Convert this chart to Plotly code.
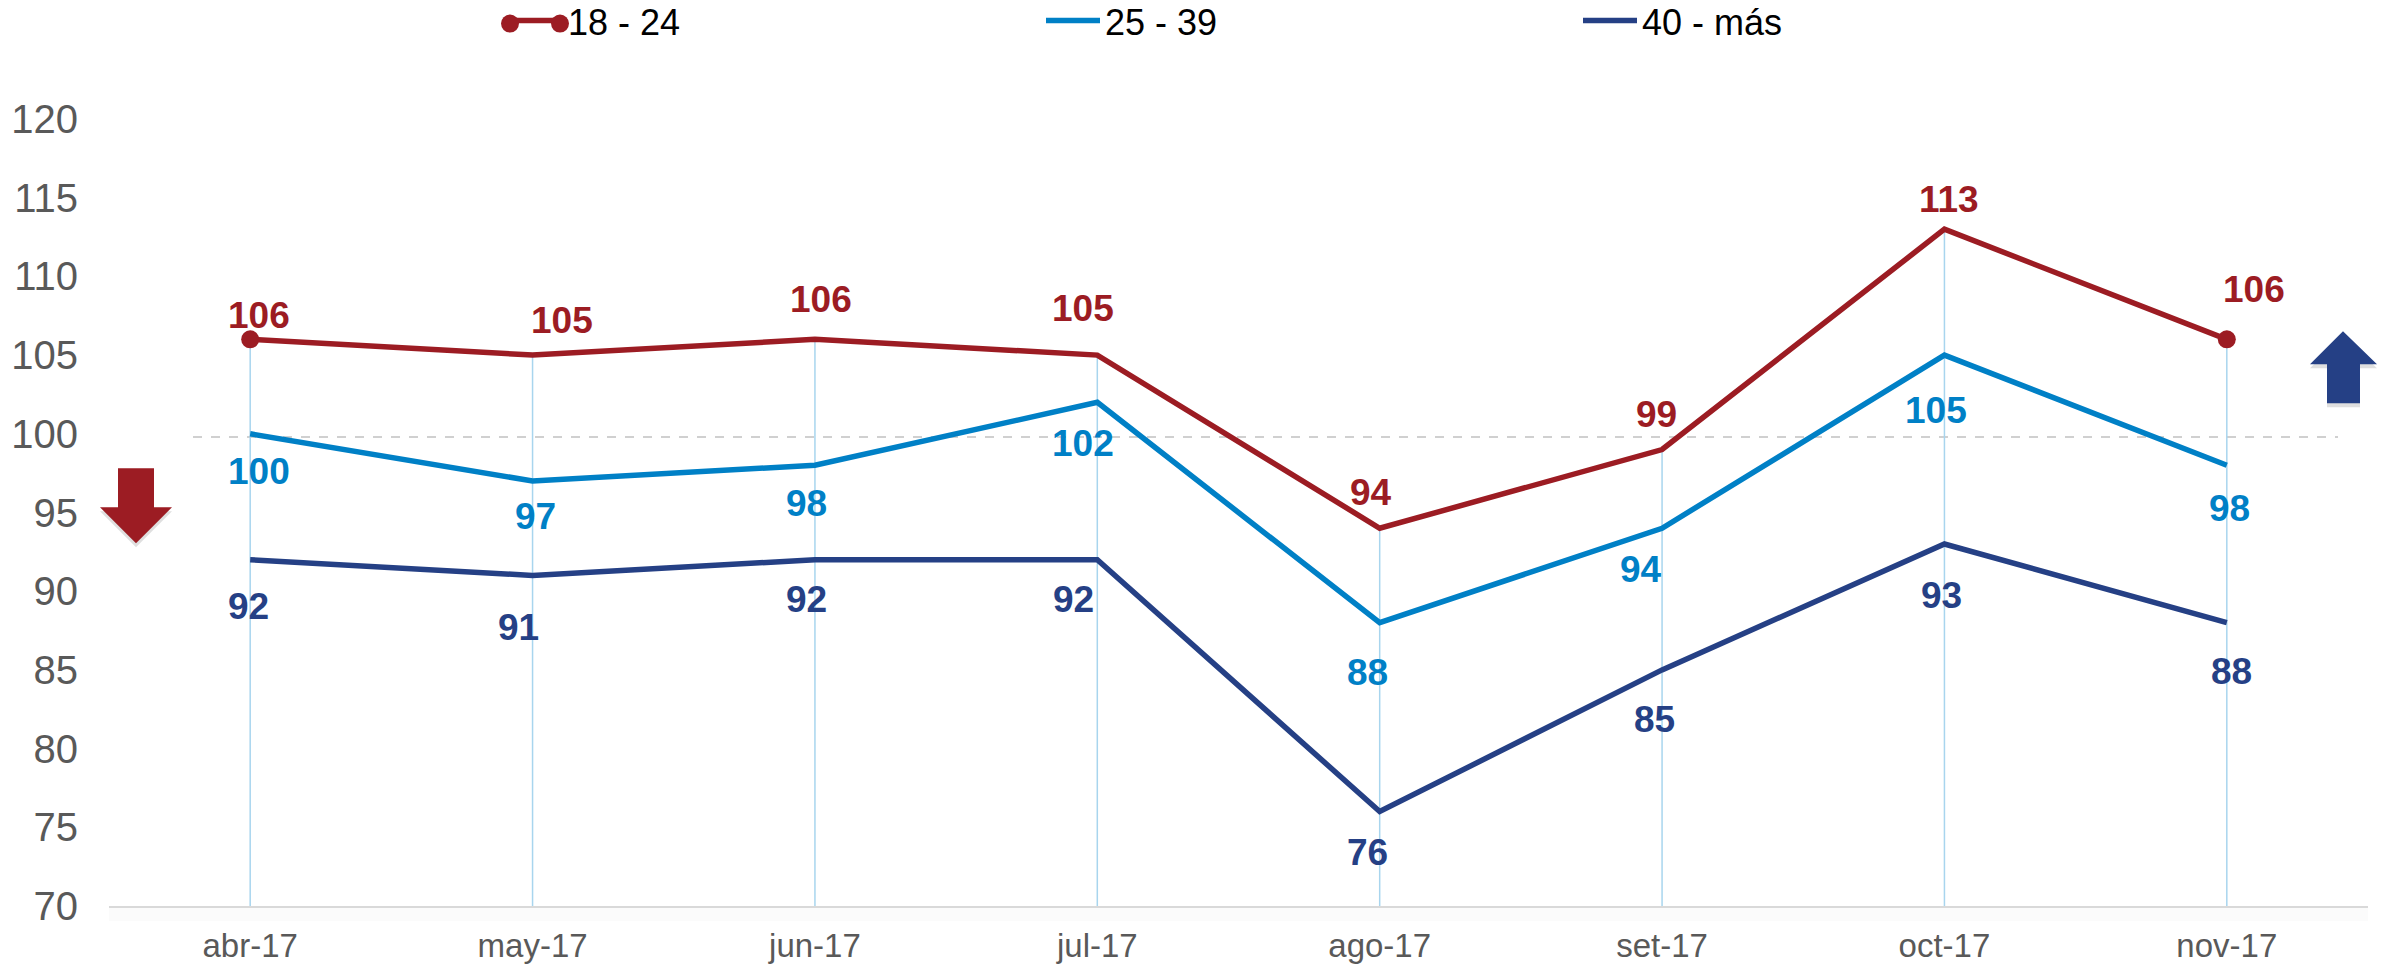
import plotly.graph_objects as go

categories = ["abr-17", "may-17", "jun-17", "jul-17", "ago-17", "set-17", "oct-17", "nov-17"]
names = ["18 - 24", "25 - 39", "40 - más"]
values_18_24 = [106, 105, 106, 105, 94, 99, 113, 106]
values_25_39 = [100, 97, 98, 102, 88, 94, 105, 98]
values_40_mas = [92, 91, 92, 92, 76, 85, 93, 88]
reference_value = 99.8
axis_floor = 70

RED, BLUE, NAVY = "#9C1C23", "#0080C6", "#254085"
W, H = 2384, 964
L, R, T, B = 109, 16, 118.5, 58

# pixel offsets of the value labels from their points
off_red = [(9, -24), (29, -35), (6, -40), (-14, -47), (-9, -36), (-6, -35), (5, -30), (27, -50)]
off_blue = [(9, 38), (3, 35), (-8, 38), (-14, 41), (-12, 50), (-21, 41), (-8, 55), (3, 43)]
off_navy = [(-2, 47), (-14, 52), (-8, 40), (-24, 40), (-12, 41), (-8, 50), (-3, 52), (5, 49)]

fig = go.Figure()

# drop lines from the top series to the axis
fig.add_trace(go.Scatter(
    x=categories, y=values_18_24, mode="markers", marker=dict(size=1, opacity=0),
    showlegend=False, hoverinfo="skip",
    error_y=dict(type="data", symmetric=False, array=[0] * 8,
                 arrayminus=[v - axis_floor for v in values_18_24],
                 color="#A8D5EE", thickness=1.5, width=0),
))

for name, vals, col in zip(names, [values_18_24, values_25_39, values_40_mas], [RED, BLUE, NAVY]):
    fig.add_trace(go.Scatter(x=categories, y=vals, name=name, mode="lines",
                             line=dict(color=col, width=5.5)))

fig.add_trace(go.Scatter(
    x=[categories[0], categories[-1]], y=[values_18_24[0], values_18_24[-1]],
    mode="markers", marker=dict(color=RED, size=18), showlegend=False, hoverinfo="skip",
))

annotations = []
for vals, col, offs in [(values_18_24, RED, off_red), (values_25_39, BLUE, off_blue), (values_40_mas, NAVY, off_navy)]:
    for c, v, (dx, dy) in zip(categories, vals, offs):
        annotations.append(dict(x=c, y=v, text=str(v), showarrow=False, xshift=dx, yshift=-dy,
                                font=dict(family="Liberation Sans", size=37, color=col, weight="bold")))


def arrow_path(points):
    return "M " + " L ".join(f"{x},{y}" for x, y in points) + " Z"


# the arrows, the legend-key dots and the faint band live in pixel space, mapped to paper coordinates
def to_paper(x, y):
    return (x - L) / (W - L - R), (H - B - y) / (H - T - B)


band_x0, band_y0 = to_paper(109, 907)
band_x1, band_y1 = to_paper(2368, 921)
dash_x0, _ = to_paper(193, 0)
dash_x1, _ = to_paper(2338, 0)

shapes = [
    dict(type="rect", xref="paper", yref="paper", x0=band_x0, x1=band_x1, y0=band_y0, y1=band_y1,
         fillcolor="#FBFBFB", line=dict(width=0), layer="below"),
    dict(type="line", xref="paper", yref="y", x0=dash_x0, x1=dash_x1,
         y0=reference_value, y1=reference_value, layer="below",
         line=dict(color="#D0D0D0", width=2, dash="dash")),
]

down = [(118, 468), (154, 468), (154, 507), (172, 507), (136, 543), (100, 507), (118, 507)]
up = [(2343, 331), (2310, 364), (2327, 364), (2327, 403), (2360, 403), (2360, 364), (2377, 364)]

for pts, col, opacity, (ox, oy) in [
    (down, "#808080", 0.25, (0, 4)), (down, RED, 1, (0, 0)),
    (up, "#808080", 0.25, (0, 4)), (up, NAVY, 1, (0, 0)),
]:
    mapped = [to_paper(x + ox, y + oy) for x, y in pts]
    shapes.append(dict(type="path", xref="paper", yref="paper", path=arrow_path(mapped),
                       fillcolor=col, opacity=opacity, line=dict(width=0)))

for cx in (510, 560):
    x0, y0 = to_paper(cx - 9, 23 - 9)
    x1, y1 = to_paper(cx + 9, 23 + 9)
    shapes.append(dict(type="circle", xref="paper", yref="paper", x0=x0, x1=x1, y0=y0, y1=y1,
                       fillcolor=RED, line=dict(width=0)))

legend_x, legend_y = to_paper(504, 20)

fig.update_layout(
    width=W, height=H, paper_bgcolor="white", plot_bgcolor="white",
    margin=dict(l=L, r=R, t=T, b=B, pad=0, autoexpand=False),
    font=dict(family="Liberation Sans"),
    showlegend=True,
    legend=dict(orientation="h", x=legend_x, xanchor="left", y=legend_y,
                yanchor="middle", entrywidth=468, entrywidthmode="pixels", itemwidth=54,
                font=dict(size=36, color="black", family="Liberation Sans"), bgcolor="rgba(0,0,0,0)"),
    annotations=annotations,
    shapes=shapes,
    xaxis=dict(type="category", categoryorder="array", categoryarray=categories, range=[-0.5, 7.5],
               showgrid=False, zeroline=False, showline=True, linecolor="#D9D9D9", linewidth=2,
               ticks="", ticklabelstandoff=9,
               tickfont=dict(size=33, color="#595959", family="Liberation Sans")),
    yaxis=dict(range=[70, 120], dtick=5, showgrid=False, zeroline=False, showline=False, ticks="",
               ticklabelstandoff=30, tickfont=dict(size=40, color="#595959", family="Liberation Sans")),
)

fig.write_html("out.html", config={"displayModeBar": False},
               post_script="document.body.style.margin='0';")
